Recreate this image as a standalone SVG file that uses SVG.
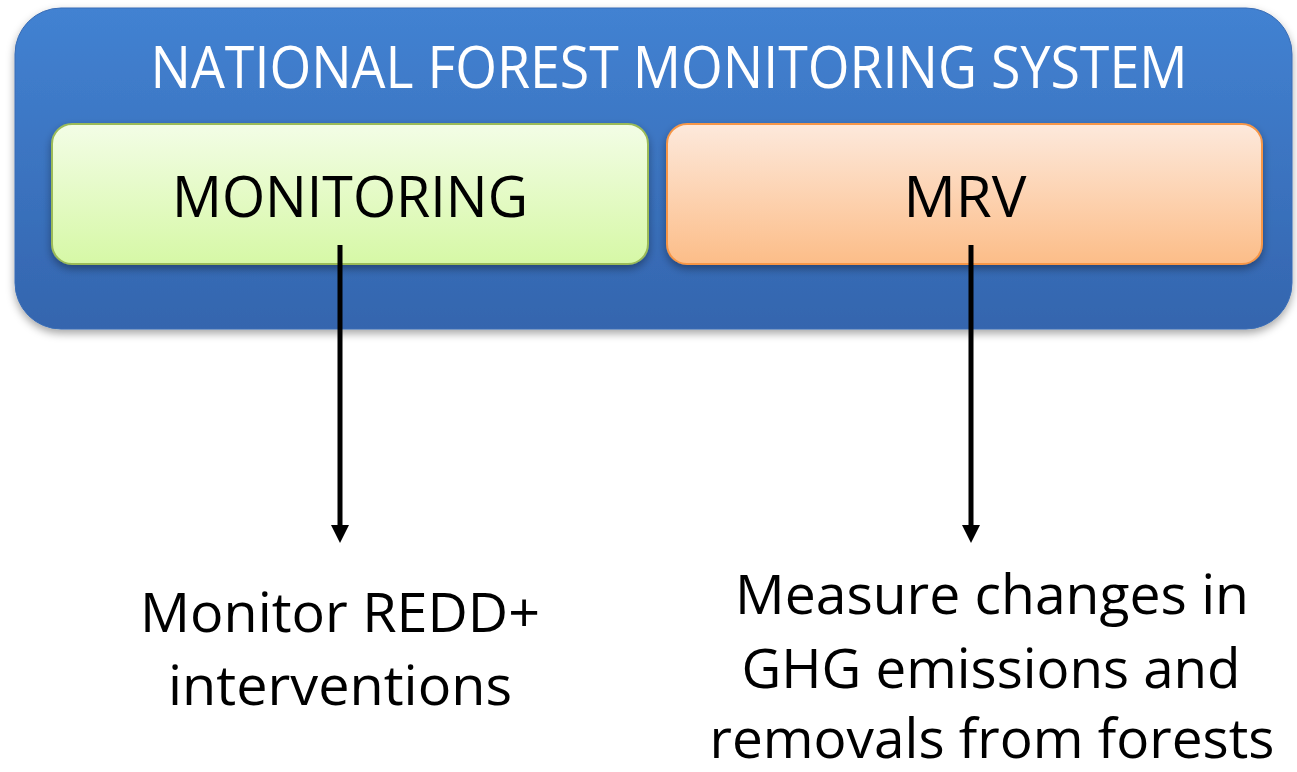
<svg xmlns="http://www.w3.org/2000/svg" width="1297" height="772" viewBox="0 0 1297 772">
<style>
.t{font-family:"Open Sans","Liberation Sans",sans-serif;}
.title{fill:#ffffff;font-size:58px;}
.lbl{fill:#000000;font-size:56px;}
.cap{fill:#000000;font-size:54px;}
.conn{stroke:#000;stroke-width:5;fill:none;}
</style>
<defs>
<linearGradient id="gBlue" x1="0" y1="0" x2="0" y2="1">
<stop offset="0" stop-color="#4282d2"/>
<stop offset="1" stop-color="#3465ae"/>
</linearGradient>
<linearGradient id="gGreen" x1="0" y1="0" x2="0" y2="1">
<stop offset="0" stop-color="#f3fde6"/>
<stop offset="1" stop-color="#d6f8a6"/>
</linearGradient>
<linearGradient id="gOrange" x1="0" y1="0" x2="0" y2="1">
<stop offset="0" stop-color="#fde9dc"/>
<stop offset="1" stop-color="#fcbd88"/>
</linearGradient>
<filter id="sh" x="-5%" y="-10%" width="110%" height="125%">
<feDropShadow dx="0" dy="4" stdDeviation="4" flood-color="#000" flood-opacity="0.35"/>
</filter>
</defs>
<g id="nfms">
<rect x="15" y="8" width="1277" height="321" rx="46" fill="url(#gBlue)" stroke="#3a6db5" stroke-width="1" filter="url(#sh)"/>
<text class="t title" x="669" y="88" text-anchor="middle" textLength="1037" lengthAdjust="spacingAndGlyphs">NATIONAL FOREST MONITORING SYSTEM</text>
</g>
<g id="monitoring">
<rect x="52" y="124" width="596" height="140" rx="20" fill="url(#gGreen)" stroke="#9bbb59" stroke-width="2" filter="url(#sh)"/>
<text class="t lbl" x="350" y="217" text-anchor="middle" textLength="356" lengthAdjust="spacingAndGlyphs">MONITORING</text>
</g>
<g id="mrv">
<rect x="667" y="124" width="595" height="140" rx="20" fill="url(#gOrange)" stroke="#f79646" stroke-width="2" filter="url(#sh)"/>
<text class="t lbl" x="965" y="217" text-anchor="middle" textLength="123" lengthAdjust="spacingAndGlyphs">MRV</text>
</g>
<g id="connectors">
<line class="conn" x1="340" y1="245" x2="340" y2="528"/>
<path d="M331,525 L349,525 L340,543 z" fill="#000"/>
<line class="conn" x1="971" y1="245" x2="971" y2="528"/>
<path d="M962,525 L980,525 L971,543 z" fill="#000"/>
</g>
<g id="monitor-text">
<text class="t cap" x="340" y="632" text-anchor="middle" textLength="400" lengthAdjust="spacingAndGlyphs">Monitor REDD+</text>
<text class="t cap" x="340" y="705" text-anchor="middle" textLength="344" lengthAdjust="spacingAndGlyphs">interventions</text>
</g>
<g id="measure-text">
<text class="t cap" x="992" y="614" text-anchor="middle" textLength="514" lengthAdjust="spacingAndGlyphs">Measure changes in</text>
<text class="t cap" x="991" y="688" text-anchor="middle" textLength="499" lengthAdjust="spacingAndGlyphs">GHG emissions and</text>
<text class="t cap" x="992" y="758" text-anchor="middle" textLength="565" lengthAdjust="spacingAndGlyphs">removals from forests</text>
</g>
</svg>
